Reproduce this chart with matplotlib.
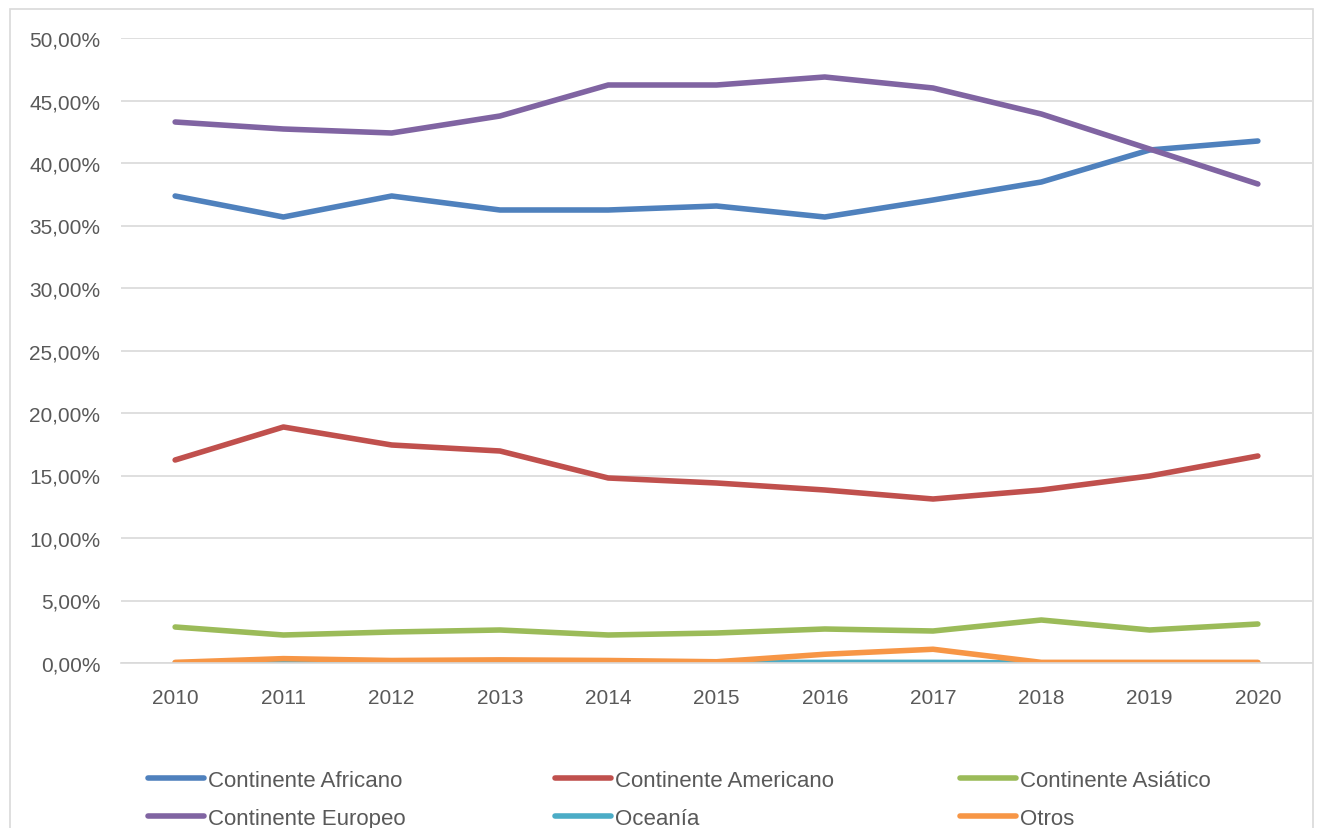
import matplotlib
matplotlib.use("Agg")
import matplotlib.pyplot as plt
from matplotlib.patches import Rectangle
from matplotlib.lines import Line2D
from matplotlib.ticker import FuncFormatter

plt.rcParams['font.family'] = ['Liberation Sans', 'DejaVu Sans']

# Datos (porcentajes)
anios = ['2010', '2011', '2012', '2013', '2014', '2015', '2016', '2017', '2018', '2019', '2020']
africano = [37.36, 35.68, 37.36, 36.24, 36.24, 36.56, 35.68, 37.04, 38.48, 41.04, 41.76]
americano = [16.24, 18.88, 17.44, 16.96, 14.80, 14.40, 13.84, 13.12, 13.84, 14.96, 16.56]
asiatico = [2.88, 2.24, 2.48, 2.64, 2.24, 2.40, 2.72, 2.56, 3.44, 2.64, 3.12]
europeo = [43.28, 42.72, 42.40, 43.76, 46.24, 46.24, 46.88, 46.00, 43.92, 41.12, 38.32]
oceania = [0.00, 0.05, 0.02, 0.02, 0.02, 0.02, 0.05, 0.05, 0.00, 0.00, 0.00]
otros = [0.05, 0.35, 0.20, 0.25, 0.20, 0.10, 0.70, 1.10, 0.05, 0.05, 0.05]

series = [
    ('Continente Africano', africano, '#4F81BD'),
    ('Continente Americano', americano, '#C0504D'),
    ('Continente Asiático', asiatico, '#9BBB59'),
    ('Continente Europeo', europeo, '#8064A2'),
    ('Oceanía', oceania, '#4BACC6'),
    ('Otros', otros, '#F79646'),
]

W, H = 1318, 829
fig = plt.figure(figsize=(W / 100, H / 100), dpi=100)

# Marco exterior del gráfico
fig.patches.append(Rectangle((10 / W, -0.05), (1303 / W), 1 - 10 / H + 0.05,
                             transform=fig.transFigure, fill=False,
                             edgecolor='#D9D9D9', lw=1.2))

ax = fig.add_axes([121 / W, (H - 664) / H, (1312 - 121) / W, (664 - 39) / H])

x = list(range(len(anios)))
for nombre, valores, color in series:
    ax.plot(x, valores, color=color, lw=4, solid_capstyle='round',
            solid_joinstyle='round', label=nombre)

ax.set_xlim(-0.5, len(anios) - 0.5)
ax.set_ylim(0, 50)
ax.set_yticks(range(0, 51, 5))
ax.yaxis.set_major_formatter(FuncFormatter(lambda v, p: f"{v:.2f}%".replace('.', ',')))
ax.set_xticks(x)
ax.set_xticklabels(anios)

ax.grid(axis='y', color='#D9D9D9', lw=1.2)
ax.set_axisbelow(True)
for s in ['top', 'right', 'left']:
    ax.spines[s].set_visible(False)
ax.spines['bottom'].set_color('#D9D9D9')
ax.spines['bottom'].set_linewidth(1.2)
ax.tick_params(length=0, labelsize=15, labelcolor='#595959')
ax.tick_params(axis='y', pad=15)
ax.tick_params(axis='x', pad=18)

# Leyenda en tres columnas
col_x = [148, 555, 960]
for c in range(3):
    handles = []
    for nombre, valores, color in [series[c], series[c + 3]]:
        handles.append(Line2D([0], [0], color=color, lw=4, solid_capstyle='round', label=nombre))
    fig.legend(handles=handles, loc='upper left',
               bbox_to_anchor=(col_x[c] / W, (H - 771) / H),
               frameon=False, fontsize=16, labelcolor='#595959',
               handlelength=2.5, handletextpad=0.2, labelspacing=0.75,
               borderaxespad=0, borderpad=0)

fig.savefig('out.png', dpi=100)
